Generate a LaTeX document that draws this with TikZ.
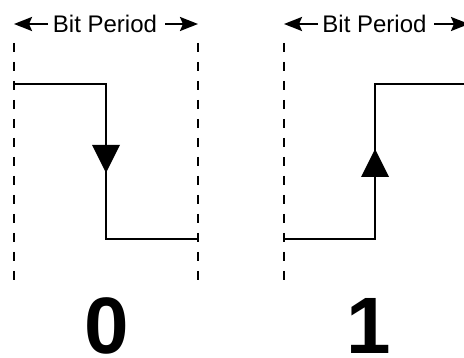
\documentclass[tikz,border=0pt]{standalone}
\usepackage{fontspec}
\setmainfont{Liberation Sans}
\usetikzlibrary{arrows.meta}
\begin{document}
\begin{tikzpicture}[x=1pt,y=-1pt,
  guide/.style={line width=2.8pt, dash pattern=on 9pt off 10pt},
  signal/.style={line width=2.4pt, line join=miter},
  span/.style={line width=2.4pt, -{Stealth[length=18pt,width=14pt,inset=3pt]}},
  lbl/.style={font=\fontsize{24}{28}\selectfont, inner sep=0pt, anchor=base},
  bit/.style={font=\fontsize{80}{90}\selectfont\bfseries, inner sep=0pt, anchor=base},
  head/.style={fill=black}]
\useasboundingbox (0,0) rectangle (464,358);
\clip (0,0) rectangle (464,358);

% bit period boundaries
\coordinate (aTop) at (14,43);   \coordinate (aBot) at (14,280);
\coordinate (bTop) at (198,43);  \coordinate (bBot) at (198,280);
\coordinate (cTop) at (284,43);  \coordinate (cBot) at (284,280);
\draw[guide] (aTop) -- (aBot);
\draw[guide] (bTop) -- (bBot);
\draw[guide] (cTop) -- (cBot);

% period labels with span arrows
\node[lbl] (perA) at (105,33) {Bit Period};
\node[lbl] (perB) at (374.5,33) {Bit Period};
\coordinate (perAl) at (48,24);  \coordinate (perAr) at (165,24);
\coordinate (perBl) at (318,24); \coordinate (perBr) at (434,24);
\draw[span] (perAl) -- (perAl -| aTop);
\draw[span] (perAr) -- (perAr -| bTop);
\draw[span] (perBl) -- (perBl -| cTop);
\draw[span] (perBr) -- ([xshift=35pt]perBr);

% bit 0: high to low transition in the middle
\coordinate (zA) at (14,84);
\coordinate (zB) at (106,84);
\coordinate (zC) at (106,239);
\coordinate (zD) at (198,239);
\coordinate (zM) at (106,159);
\draw[signal] (zA) -- (zB) -- (zC) -- (zD);
\fill[head] ([shift={(-14,-14)}]zM) -- ([shift={(14,-14)}]zM) -- ([shift={(0,14)}]zM) -- cycle;

% bit 1: low to high transition in the middle
\coordinate (oA) at (284,239);
\coordinate (oB) at (375,239);
\coordinate (oC) at (375,84);
\coordinate (oD) at (470,84);
\coordinate (oM) at (375,163);
\draw[signal] (oA) -- (oB) -- (oC) -- (oD);
\fill[head] ([shift={(-14,14)}]oM) -- ([shift={(14,14)}]oM) -- ([shift={(0,-14)}]oM) -- cycle;

% bit values
\node[bit] (valZero) at (106.5,354) {0};
\node[bit] (valOne) at (369,354) {1};
\end{tikzpicture}
\end{document}
